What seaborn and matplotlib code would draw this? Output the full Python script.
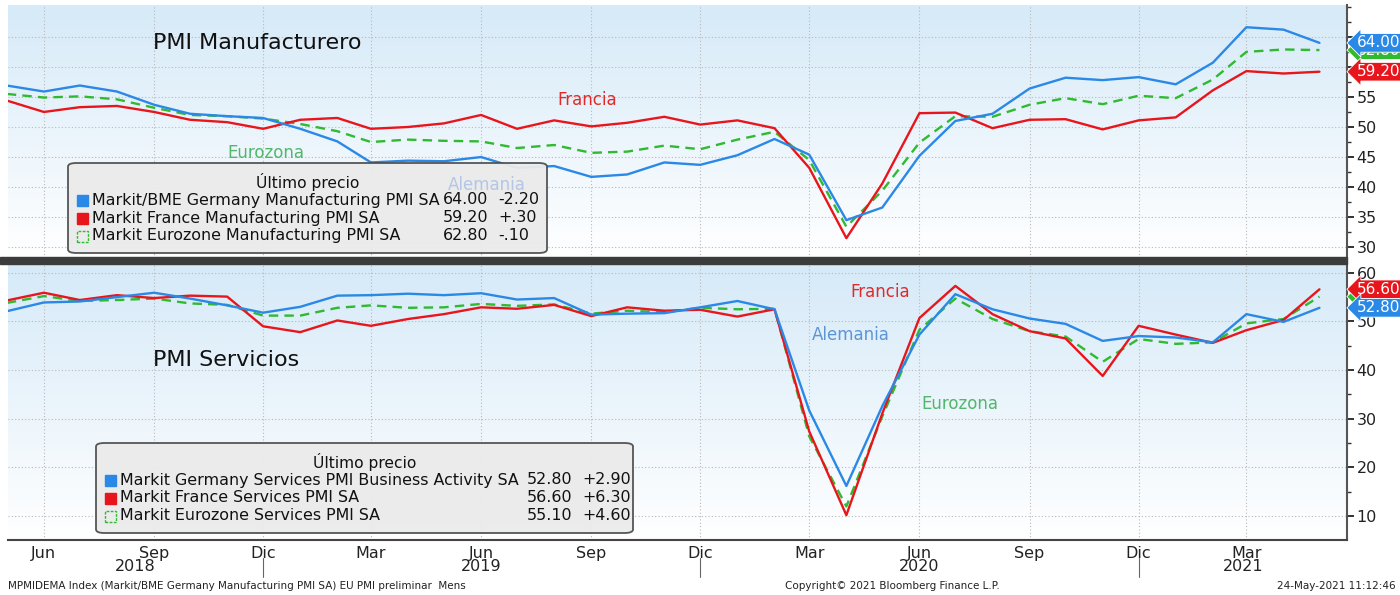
import numpy as np
import pandas as pd
import seaborn as sns
import matplotlib.pyplot as plt
import matplotlib.dates as mdates
from matplotlib.ticker import FuncFormatter, MultipleLocator
from matplotlib.colors import LinearSegmentedColormap
from matplotlib.patches import FancyBboxPatch, Rectangle

# monthly PMI readings, May 2018 .. May 2021
months = pd.date_range("2018-05-01", periods=37, freq="MS")

ger_manuf = [56.9, 55.9, 56.9, 55.9, 53.7, 52.2, 51.8, 51.5,
             49.7, 47.6, 44.1, 44.4, 44.3, 45.0, 43.2, 43.5, 41.7, 42.1, 44.1, 43.7,
             45.3, 48.0, 45.4, 34.5, 36.6, 45.2, 51.0, 52.2, 56.4, 58.2, 57.8, 58.3,
             57.1, 60.7, 66.6, 66.2, 64.0]
fra_manuf = [54.4, 52.5, 53.3, 53.5, 52.5, 51.2, 50.8, 49.7,
             51.2, 51.5, 49.7, 50.0, 50.6, 52.0, 49.7, 51.1, 50.1, 50.7, 51.7, 50.4,
             51.1, 49.8, 43.2, 31.5, 40.6, 52.3, 52.4, 49.8, 51.2, 51.3, 49.6, 51.1,
             51.6, 56.1, 59.3, 58.9, 59.2]
ez_manuf = [55.5, 54.9, 55.1, 54.6, 53.2, 52.0, 51.8, 51.4,
            50.5, 49.3, 47.5, 47.9, 47.7, 47.6, 46.5, 47.0, 45.7, 45.9, 46.9, 46.3,
            47.9, 49.2, 44.5, 33.4, 39.4, 47.4, 51.8, 51.7, 53.7, 54.8, 53.8, 55.2,
            54.8, 57.9, 62.5, 62.9, 62.8]

ger_serv = [52.1, 53.9, 54.1, 55.0, 55.9, 54.7, 53.3, 51.8,
            53.0, 55.3, 55.4, 55.7, 55.4, 55.8, 54.5, 54.8, 51.4, 51.6, 51.7, 52.9,
            54.2, 52.5, 31.7, 16.2, 32.6, 47.3, 55.6, 52.5, 50.6, 49.5, 46.0, 47.0,
            46.7, 45.7, 51.5, 49.9, 52.8]
fra_serv = [54.3, 55.9, 54.4, 55.4, 54.8, 55.3, 55.1, 49.0,
            47.8, 50.2, 49.1, 50.5, 51.5, 52.9, 52.6, 53.4, 51.1, 52.9, 52.2, 52.4,
            51.0, 52.5, 27.4, 10.2, 31.1, 50.7, 57.3, 51.5, 48.0, 46.5, 38.8, 49.1,
            47.3, 45.6, 48.2, 50.3, 56.6]
ez_serv = [53.8, 55.2, 54.2, 54.4, 54.7, 53.7, 53.4, 51.2,
           51.2, 52.8, 53.3, 52.8, 52.9, 53.6, 53.2, 53.5, 51.6, 52.2, 51.9, 52.8,
           52.5, 52.6, 26.4, 12.0, 30.5, 48.3, 54.7, 50.5, 48.0, 46.9, 41.7, 46.4,
           45.4, 45.7, 49.6, 50.5, 55.1]

series_names = ["Alemania", "Francia", "Eurozona"]
manuf_legend = ["Markit/BME Germany Manufacturing PMI SA",
                "Markit France Manufacturing PMI SA",
                "Markit Eurozone Manufacturing PMI SA"]
serv_legend = ["Markit Germany Services PMI Business Activity SA",
               "Markit France Services PMI SA",
               "Markit Eurozone Services PMI SA"]
month_es = ["Ene", "Feb", "Mar", "Abr", "May", "Jun",
            "Jul", "Ago", "Sep", "Oct", "Nov", "Dic"]

colors = {"Alemania": "#2a88e6", "Francia": "#e8161c", "Eurozona": "#2fba2f"}
dashes = {"Alemania": "", "Francia": "", "Eurozona": (4, 2.6)}

W, H = 1400, 595
sns.set_style("white")
plt.rcParams["font.family"] = ["DejaVu Sans"]


def fx(x):
    return x / W


def fy(y):
    return 1 - y / H


def long_df(a, b, c):
    return pd.DataFrame({
        "fecha": list(months) * 3,
        "valor": a + b + c,
        "serie": np.repeat(series_names, len(months)),
    })


def fmt_chg(d):
    d = round(d, 2)
    s = f"{abs(d):.2f}"
    if s.startswith("0"):
        s = s[1:]
    return ("-" if d < 0 else "+") + s


def tick_fmt(last_vals):
    # labels sitting right under a value tag are not visible on the terminal
    def f(v, p):
        if any(abs(v - t) < 2 for t in last_vals):
            return ""
        return f"{v:g}"
    return FuncFormatter(f)


fig = plt.figure(figsize=(14, 5.95), dpi=100)
ax1 = fig.add_axes([fx(8), fy(258), fx(1339), (258 - 5) / H])
ax2 = fig.add_axes([fx(8), fy(540), fx(1339), (540 - 264) / H])

bg = LinearSegmentedColormap.from_list("bg", ["#ffffff", "#d6eaf8"])
grad = np.linspace(0, 1, 256).reshape(-1, 1)

panels = [
    (ax1, [ger_manuf, fra_manuf, ez_manuf], (28.2, 70.3), 5, 2.5, 65),
    (ax2, [ger_serv, fra_serv, ez_serv], (5.1, 61.8), 10, 5, 60),
]
for ax, vals, ylim, major, minor, top_lab in panels:
    df = long_df(*vals)
    sns.lineplot(data=df, x="fecha", y="valor", hue="serie", style="serie",
                 hue_order=series_names[::-1], style_order=series_names[::-1],
                 palette=colors, dashes=dashes, linewidth=1.7, legend=False, ax=ax)
    ax.imshow(grad, cmap=bg, extent=[0, 1, 0, 1], transform=ax.transAxes,
              aspect="auto", origin="lower", zorder=0)
    ax.set_xlim(pd.Timestamp("2018-05-02"), pd.Timestamp("2021-05-24"))
    ax.set_ylim(*ylim)
    ax.set_xlabel("")
    ax.set_ylabel("")
    ax.yaxis.tick_right()
    ax.set_yticks(np.arange(10 if major == 10 else 30, top_lab + 1, major))
    ax.yaxis.set_minor_locator(MultipleLocator(minor))
    ax.yaxis.set_major_formatter(tick_fmt([v[-1] for v in vals]))
    ax.set_ylim(*ylim)
    ax.xaxis.set_major_locator(mdates.MonthLocator(bymonth=[3, 6, 9, 12]))
    ax.xaxis.set_minor_locator(mdates.MonthLocator())
    ax.xaxis.set_major_formatter(FuncFormatter(
        lambda v, p: month_es[mdates.num2date(v).month - 1]))
    ax.grid(True, which="major", ls=(0, (1, 2)), color="#b9b9b9", lw=0.8)
    ax.tick_params(axis="y", which="major", direction="out", length=5, width=1.3,
                   labelsize=11.5, pad=2, colors="#222222")
    ax.tick_params(axis="y", which="minor", direction="out", length=3, width=1,
                   colors="#333333")
    for s in ["left", "top"]:
        ax.spines[s].set_visible(False)
    ax.spines["right"].set_color("#555555")
    ax.spines["right"].set_linewidth(1.5)

ax1.spines["bottom"].set_visible(False)
ax1.tick_params(axis="x", which="both", length=0, labelbottom=False)
ax2.spines["bottom"].set_color("#444444")
ax2.spines["bottom"].set_linewidth(1.5)
ax2.tick_params(axis="x", which="major", direction="out", length=3, width=1,
                labelsize=11.5, pad=1, colors="#222222")
ax2.tick_params(axis="x", which="minor", direction="out", length=3, width=1,
                colors="#333333")

# year labels and separators under the month axis
dec_marks = [pd.Timestamp(f"{y}-12-01") for y in (2018, 2019, 2020)]
edges = [pd.Timestamp("2018-05-02")] + dec_marks + [pd.Timestamp("2021-05-24")]
for i, yr in enumerate([2018, 2019, 2020, 2021]):
    mid = edges[i] + (edges[i + 1] - edges[i]) / 2
    ax2.text(mid, -0.095, str(yr), transform=ax2.get_xaxis_transform(),
             ha="center", va="center", fontsize=11.5, color="#222222")
for d in dec_marks:
    ax2.plot([d, d], [-0.065, -0.135], transform=ax2.get_xaxis_transform(),
             color="#666666", lw=0.8, clip_on=False)

# value tags on the right axis
for ax, vals in [(ax1, [ez_manuf, fra_manuf, ger_manuf]),
                 (ax2, [ez_serv, fra_serv, ger_serv])]:
    for name, v in zip(["Eurozona", "Francia", "Alemania"], vals):
        ax.annotate(f"{v[-1]:.2f}", xy=(1.0, v[-1]),
                    xycoords=("axes fraction", "data"),
                    xytext=(7, 0), textcoords="offset points",
                    ha="left", va="center", color="white", fontsize=11,
                    bbox=dict(boxstyle="larrow,pad=0.12", fc=colors[name],
                              ec="white", lw=0.6),
                    annotation_clip=False, zorder=10)

# separator between the two panels
fig.patches.append(Rectangle((0, fy(264)), fx(1347), 7 / H, transform=fig.transFigure,
                             color="#3c3c3c", zorder=6))

# titles and series labels
fig.text(fx(153), fy(43), "PMI Manufacturero", fontsize=16, va="center", color="#111111")
fig.text(fx(153), fy(360), "PMI Servicios", fontsize=16, va="center", color="#111111")
fig.text(fx(587), fy(100), "Francia", fontsize=12, ha="center", va="center", color="#e02a2a")
fig.text(fx(266), fy(153), "Eurozona", fontsize=12, ha="center", va="center", color="#52b66c")
fig.text(fx(487), fy(185), "Alemania", fontsize=12, ha="center", va="center",
         color="#b3c6e6", zorder=8)
fig.text(fx(880), fy(292), "Francia", fontsize=12, ha="center", va="center", color="#e02a2a")
fig.text(fx(851), fy(335), "Alemania", fontsize=12, ha="center", va="center", color="#5b95d6")
fig.text(fx(960), fy(404), "Eurozona", fontsize=12, ha="center", va="center", color="#52b66c")


def legend_box(x0, y0, x1, y1, names, data, val_x):
    fig.patches.append(FancyBboxPatch(
        (fx(x0), fy(y1)), fx(x1 - x0), (y1 - y0) / H,
        boxstyle="round,pad=0,rounding_size=0.006", transform=fig.transFigure,
        fc="#ebebeb", ec="#4d4d4d", lw=1.3, alpha=0.95, zorder=5))
    fig.text(fx((x0 + x1) / 2), fy(y0 + 19), "Último precio", fontsize=11.2,
             ha="center", va="center", color="#111111", zorder=7)
    for i, (nm, key, v) in enumerate(zip(names, series_names, data)):
        yc = y0 + 37 + 18 * i
        sq = Rectangle((fx(x0 + 9), fy(yc + 6)), fx(11), 11 / H,
                       transform=fig.transFigure, zorder=7)
        if key == "Eurozona":
            sq.set(fc="none", ec=colors[key], lw=1, ls=(0, (2, 1)))
        else:
            sq.set(fc=colors[key], ec=colors[key])
        fig.patches.append(sq)
        fig.text(fx(x0 + 24), fy(yc), nm, fontsize=11.4, va="center",
                 color="#111111", zorder=7)
        fig.text(fx(val_x), fy(yc), f"{v[-1]:.2f}", fontsize=11.4, va="center",
                 ha="right", color="#111111", zorder=7)
        fig.text(fx(val_x + 10), fy(yc), fmt_chg(v[-1] - v[-2]), fontsize=11.4,
                 va="center", color="#111111", zorder=7)


legend_box(68, 163, 547, 253, manuf_legend, [ger_manuf, fra_manuf, ez_manuf], 488)
legend_box(96, 443, 633, 533, serv_legend, [ger_serv, fra_serv, ez_serv], 572)

# footer
fig.text(fx(8), fy(586), "MPMIDEMA Index (Markit/BME Germany Manufacturing PMI SA) EU PMI preliminar  Mens",
         fontsize=7.5, va="center", color="#222222")
fig.text(fx(892), fy(586), "Copyright© 2021 Bloomberg Finance L.P.", fontsize=7.5,
         ha="center", va="center", color="#222222")
fig.text(fx(1396), fy(586), "24-May-2021 11:12:46", fontsize=7.5, ha="right",
         va="center", color="#222222")

fig.savefig("out.png", dpi=100)
